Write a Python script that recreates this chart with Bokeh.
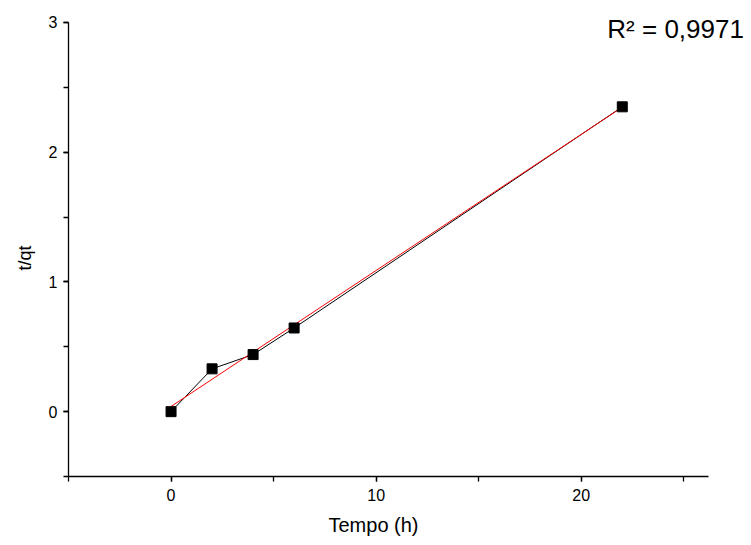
import numpy as np
from bokeh.plotting import figure
from bokeh.models import Range1d, SingleIntervalTicker, Label, LinearAxis, Title
from bokeh.embed import file_html
from bokeh.resources import INLINE

tempo = [0, 2, 4, 6, 22]
t_qt = [0.0, 0.33, 0.44, 0.645, 2.35]
r2_text = "R² = 0,9971"
x_label = "Tempo (h)"
y_label = "t/qt"

slope, intercept = np.polyfit(tempo, t_qt, 1)
fit_x = [tempo[0], tempo[-1]]
fit_y = [intercept + slope * x for x in fit_x]

p = figure(width=751, height=545, output_backend="svg", toolbar_location=None,
           x_range=Range1d(-5, 28.3), y_range=Range1d(-0.5, 3.0925),
           min_border_left=68, min_border_right=0, min_border_top=10, min_border_bottom=69,
           x_axis_location=None, y_axis_location=None)
p.outline_line_color = None
p.xgrid.visible = False
p.ygrid.visible = False
p.background_fill_color = "white"
p.border_fill_color = "white"

xa = LinearAxis(ticker=SingleIntervalTicker(interval=10, num_minor_ticks=2), bounds=(-5, 26.2))
ya = LinearAxis(ticker=SingleIntervalTicker(interval=1, num_minor_ticks=2), bounds=(-0.5, 3))
for ax in (xa, ya):
    ax.axis_line_color = "black"
    ax.axis_line_width = 1.3
    ax.major_tick_line_color = "black"
    ax.minor_tick_line_color = "black"
    ax.major_tick_line_width = 1.3
    ax.minor_tick_line_width = 1.3
    ax.major_tick_in = 0
    ax.major_tick_out = 5
    ax.minor_tick_in = 0
    ax.minor_tick_out = 5
    ax.major_label_text_font = "Liberation Sans"
    ax.major_label_text_font_size = "16px"
    ax.major_label_text_color = "black"
xa.major_label_standoff = 7
ya.major_label_standoff = 6
p.add_layout(xa, "below")
p.add_layout(ya, "left")

xt = Title(text=x_label, align="left", offset=260, text_font="Liberation Sans",
           text_font_size="20px", text_font_style="normal", text_color="black",
           standoff=16)
yt = Title(text=y_label, align="left", offset=206, text_font="Liberation Sans",
           text_font_size="18px", text_font_style="normal", text_color="black",
           standoff=21)
p.add_layout(xt, "below")
p.add_layout(yt, "left")

p.line(tempo, t_qt, line_color="black", line_width=1)
p.line(fit_x, fit_y, line_color="red", line_width=1)
p.scatter(tempo, t_qt, marker="square", size=10, fill_color="black", line_color="black")

lbl = Label(x=21.27, y=2.95, text=r2_text, text_font="Liberation Sans", text_font_size="26px",
            text_color="black", text_baseline="alphabetic", text_align="left")
p.add_layout(lbl)

open("out.html", "w").write(file_html(p, INLINE))
